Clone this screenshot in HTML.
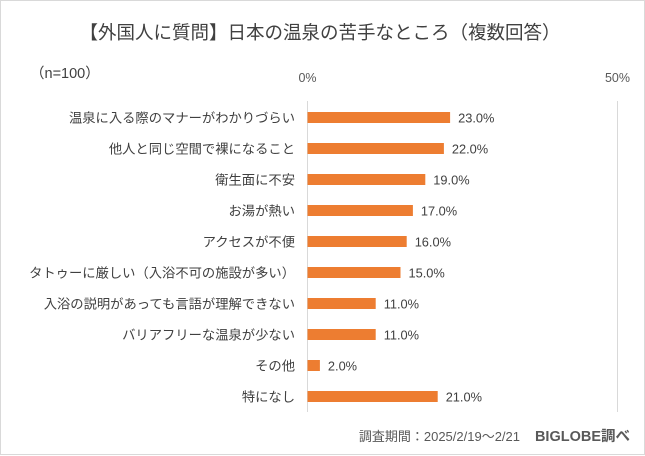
<!DOCTYPE html>
<html><head><meta charset="utf-8"><style>
body{margin:0;background:#fff;}
#c{position:relative;width:645px;height:456px;overflow:hidden;font-family:"Liberation Sans","Noto Sans CJK JP",sans-serif;}
</style></head><body>
<div id="c">
<svg width="645" height="456" id="svg">
<rect x="0.5" y="0.5" width="644" height="454" fill="#fff" stroke="#d9d9d9"/>
<text x="320" y="39" text-anchor="middle" font-size="18.5" fill="#404040" font-family="Liberation Sans,Noto Sans CJK JP,sans-serif">【外国人に質問】日本の温泉の苦手なところ（複数回答）</text>
<text x="30" y="78" font-size="14.5" fill="#404040" font-family="Liberation Sans,Noto Sans CJK JP,sans-serif">（n=100）</text>
<g id="plot"></g>
<text x="520" y="441" text-anchor="end" font-size="13" fill="#595959" font-family="Liberation Sans,Noto Sans CJK JP,sans-serif">調査期間：2025/2/19～2/21</text>
<text x="630" y="441" text-anchor="end" font-size="14.5" font-weight="bold" fill="#595959" font-family="Liberation Sans,Noto Sans CJK JP,sans-serif">BIGLOBE調べ</text>
</svg>
</div>
<script>
const categories=["温泉に入る際のマナーがわかりづらい","他人と同じ空間で裸になること","衛生面に不安","お湯が熱い","アクセスが不便","タトゥーに厳しい（入浴不可の施設が多い）","入浴の説明があっても言語が理解できない","バリアフリーな温泉が少ない","その他","特になし"];
const values=[23.0,22.0,19.0,17.0,16.0,15.0,11.0,11.0,2.0,21.0];
const tickValues=[0,50];
const tickLabels=["0%","50%"];
const ns="http://www.w3.org/2000/svg";
const g=document.getElementById("plot");
const x0=307.5,pxPer=6.2,rowTop=102,rowH=31,barH=11;
const xs=v=>x0+v*pxPer;
const ys=i=>rowTop+i*rowH+rowH/2;
const F='Liberation Sans,Noto Sans CJK JP,sans-serif';
function mk(t,a){const e=document.createElementNS(ns,t);for(const k in a)e.setAttribute(k,a[k]);g.appendChild(e);return e;}
tickValues.forEach((v,i)=>{
 const l=mk("line",{x1:xs(v),x2:xs(v),y1:101,y2:412,stroke:"#d9d9d9","stroke-width":1});
 
 
 const t=mk("text",{x:xs(v),y:82,"text-anchor":"middle","font-size":12.5,fill:"#595959","font-family":F});
 t.textContent=tickLabels[i];
 
 
});
categories.forEach((c,i)=>{
 const y=ys(i);
 const r=mk("rect",{x:xs(0),y:y-barH/2,width:xs(values[i])-xs(0),height:barH,fill:"#ED7D31"});
 
 
 const t=mk("text",{x:295,y:y+5,"text-anchor":"end","font-size":13.3,fill:"#404040","font-family":F});
 t.textContent=c;
 
 
 const v=mk("text",{x:xs(values[i])+8,y:y+5,"font-size":12.8,fill:"#404040","font-family":F});
 v.textContent=values[i].toFixed(1)+"%";
 
 
});
</script>
</body></html>
